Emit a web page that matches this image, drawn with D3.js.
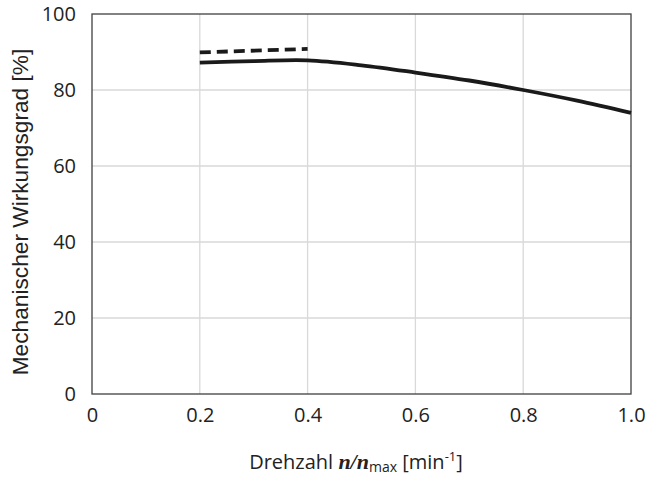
<!DOCTYPE html>
<html>
<head>
<meta charset="utf-8">
<script src="https://cdn.jsdelivr.net/npm/d3@7"></script>
<style>
  body { margin: 0; background: #fff; }
  svg text { fill: #222; }
</style>
</head>
<body>
<div id="chart"></div>
<script>
// Données
let xTicks = [0, 0.2, 0.4, 0.6, 0.8, 1.0];
let yTicks = [0, 20, 40, 60, 80, 100];

let solidX = [0.2, 0.3, 0.4, 0.5, 0.6, 0.7, 0.8, 0.9, 1.0];
let solidY = [87.2, 87.6, 87.8, 86.5, 84.6, 82.5, 80.0, 77.2, 74.0];

let dashX = [0.2, 0.4];
let dashY = [89.9, 90.8];

let margins = { left: 92, right: 18, top: 14, bottom: 83 };
let width = 649 - margins.left - margins.right;
let height = 477 - margins.top - margins.bottom;

let svg = d3.select("#chart")
            .append("svg")
            .attr("width", 649)
            .attr("height", 477);

let g = svg.append("g")
           .attr("transform", `translate(${margins.left},${margins.top})`);

let xScale = d3.scaleLinear().domain([0, 1]).range([0, width]);
let yScale = d3.scaleLinear().domain([0, 100]).range([height, 0]);

// Grille
g.append("g")
 .selectAll("line")
 .data(xTicks.slice(1, -1))
 .enter()
 .append("line")
 .attr("x1", d => xScale(d)).attr("x2", d => xScale(d))
 .attr("y1", 0).attr("y2", height)
 .style("stroke", "#d9d9d9").style("stroke-width", 1.3);

g.append("g")
 .selectAll("line")
 .data(yTicks.slice(1, -1))
 .enter()
 .append("line")
 .attr("x1", 0).attr("x2", width)
 .attr("y1", d => yScale(d)).attr("y2", d => yScale(d))
 .style("stroke", "#d9d9d9").style("stroke-width", 1.3);

// Cadre
g.append("rect")
 .attr("width", width).attr("height", height)
 .style("fill", "none").style("stroke", "#404040").style("stroke-width", 1.3);

// Axes
let xAxis = g.append("g")
             .attr("transform", `translate(0, ${height})`)
             .call(d3.axisBottom(xScale).tickValues(xTicks).tickSize(0).tickPadding(14)
                     .tickFormat(d => d === 0 ? "0" : d3.format(".1f")(d)));
let yAxis = g.append("g")
             .call(d3.axisLeft(yScale).tickValues(yTicks).tickSize(0).tickPadding(16));

[xAxis, yAxis].forEach(a => {
  a.select(".domain").remove();
  a.selectAll("text")
   .style("font-family", "'Open Sans', 'Noto Sans', sans-serif")
   .style("font-size", "20px")
   .style("fill", "#222");
});

// Courbes
let line = d3.line()
             .x(d => xScale(d[0]))
             .y(d => yScale(d[1]))
             .curve(d3.curveCatmullRom);

g.append("path")
 .datum(solidX.map((x, i) => [x, solidY[i]]))
 .attr("d", line)
 .style("fill", "none").style("stroke", "#1a1a1a").style("stroke-width", 3.8);

g.append("path")
 .datum(dashX.map((x, i) => [x, dashY[i]]))
 .attr("d", line)
 .style("fill", "none").style("stroke", "#1a1a1a").style("stroke-width", 3.8)
 .style("stroke-dasharray", "11,6");

// Légendes des axes
let xLabel = svg.append("text")
                .attr("x", 356)
                .attr("y", 469)
                .attr("text-anchor", "middle")
                .style("font-family", "'Open Sans', 'Noto Sans', sans-serif")
                .style("font-size", "20px");
xLabel.append("tspan").text("Drehzahl ");
xLabel.append("tspan").text("n/n")
      .style("font-family", "'Liberation Serif', serif")
      .style("font-style", "italic").style("font-weight", "bold").style("font-size", "22px");
xLabel.append("tspan").text("max").attr("dy", 3).style("font-size", "14px");
xLabel.append("tspan").text(" [min").attr("dy", -3);
xLabel.append("tspan").text("-1").attr("dy", -8).style("font-size", "13px");
xLabel.append("tspan").text("]").attr("dy", 8);

svg.append("text")
   .attr("transform", "translate(28, 212) rotate(-90)")
   .attr("text-anchor", "middle")
   .style("font-family", "'Liberation Sans', Arial, sans-serif")
   .style("font-size", "22.7px")
   .text("Mechanischer Wirkungsgrad [%]");
</script>
</body>
</html>
